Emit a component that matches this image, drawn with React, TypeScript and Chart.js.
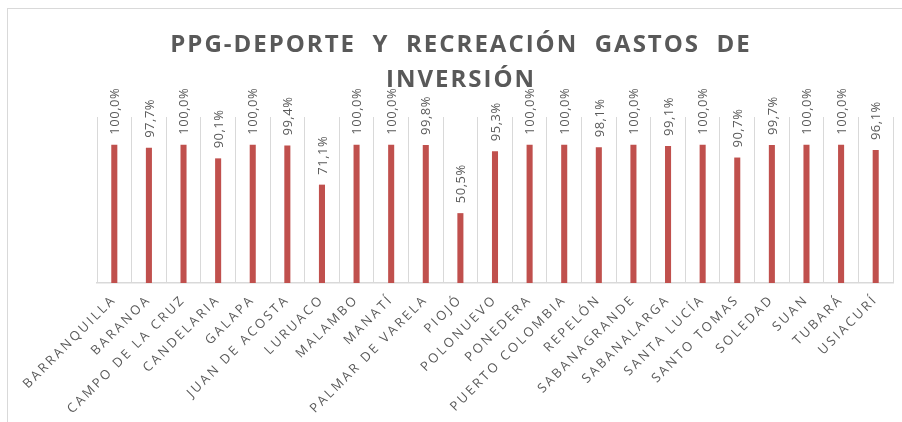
import React, { useEffect, useRef } from "react";
import { Chart, registerables } from "chart.js";

Chart.register(...registerables);

const titleLines = ["PPG-DEPORTE  Y  RECREACIÓN  GASTOS  DE", "INVERSIÓN"];

const categories = [
  "BARRANQUILLA",
  "BARANOA",
  "CAMPO DE LA CRUZ",
  "CANDELARIA",
  "GALAPA",
  "JUAN DE ACOSTA",
  "LURUACO",
  "MALAMBO",
  "MANATÍ",
  "PALMAR DE VARELA",
  "PIOJÓ",
  "POLONUEVO",
  "PONEDERA",
  "PUERTO COLOMBIA",
  "REPELÓN",
  "SABANAGRANDE",
  "SABANALARGA",
  "SANTA LUCÍA",
  "SANTO TOMAS",
  "SOLEDAD",
  "SUAN",
  "TUBARÁ",
  "USIACURÍ",
];

const values = [
  100.0, 97.7, 100.0, 90.1, 100.0, 99.4, 71.1, 100.0, 100.0, 99.8, 50.5, 95.3,
  100.0, 100.0, 98.1, 100.0, 99.1, 100.0, 90.7, 99.7, 100.0, 100.0, 96.1,
];

const fmt = (v: number) => v.toFixed(1).replace(".", ",") + "%";

const TEXT = "#595959";

const spacingPlugin = {
  id: "spacing",
  beforeDraw(chart: any) {
    const ctx = chart.ctx;
    ctx.letterSpacing = "2.5px";
  },
};

const valueLabelsPlugin = {
  id: "valueLabels",
  afterDatasetsDraw(chart: any) {
    const ctx = chart.ctx;
    const meta = chart.getDatasetMeta(0);
    ctx.save();
    ctx.letterSpacing = "0.5px";
    ctx.fillStyle = TEXT;
    ctx.font = "13px 'Open Sans'";
    ctx.textAlign = "left";
    ctx.textBaseline = "middle";
    meta.data.forEach((el: any, i: number) => {
      ctx.save();
      ctx.translate(el.x + 1, el.y - 10);
      ctx.rotate(-Math.PI / 2);
      ctx.fillText(fmt(values[i]), 0, 0);
      ctx.restore();
    });
    ctx.restore();
  },
};

const titlePlugin = {
  id: "customTitle",
  afterDraw(chart: any) {
    const ctx = chart.ctx;
    ctx.save();
    ctx.fillStyle = TEXT;
    ctx.font = "bold 24px 'Open Sans'";
    ctx.letterSpacing = "2px";
    ctx.textAlign = "center";
    ctx.textBaseline = "alphabetic";
    ctx.fillText(titleLines[0], 461, 52);
    ctx.fillText(titleLines[1], 461, 87);
    ctx.restore();
  },
};

export default function App() {
  const ref = useRef<HTMLCanvasElement | null>(null);

  useEffect(() => {
    document.body.style.margin = "0";
    const canvas = ref.current!;
    const chart = new Chart(canvas, {
      type: "bar",
      data: {
        labels: categories,
        datasets: [
          {
            data: values,
            backgroundColor: "#C0504D",
            borderWidth: 0,
            categoryPercentage: 1,
            barPercentage: 0.175,
          },
        ],
      },
      options: {
        animation: false,
        responsive: false,
        devicePixelRatio: 1,
        layout: { padding: { top: 117, left: 97, right: 9, bottom: 0 } },
        plugins: {
          legend: { display: false },
          title: { display: false },
          tooltip: { enabled: false },
        },
        scales: {
          x: {
            grid: {
              display: true,
              color: "#d9d9d9",
              lineWidth: 1,
              offset: true,
              drawTicks: false,
            },
            border: { display: true, color: "#d9d9d9", width: 1.5 },
            ticks: {
              color: TEXT,
              font: { family: "'Open Sans'", size: 13 },
              minRotation: 45,
              maxRotation: 45,
              autoSkip: false,
              padding: 9,
            },
            afterFit(scale: any) {
              scale.height = 139;
            },
          },
          y: {
            display: false,
            min: 0,
            max: 120,
          },
        },
      },
      plugins: [spacingPlugin, valueLabelsPlugin, titlePlugin],
    });
    return () => chart.destroy();
  }, []);

  return (
    <div style={{ position: "relative", width: 902, height: 422, overflow: "hidden", background: "#fff" }}>
      <div
        style={{
          position: "absolute",
          left: 7,
          top: 8,
          width: 960,
          height: 480,
          border: "1.5px solid #d9d9d9",
          boxSizing: "border-box",
        }}
      />
      <canvas ref={ref} width={902} height={422} style={{ position: "absolute", left: 0, top: 0, width: 902, height: 422 }} />
    </div>
  );
}
